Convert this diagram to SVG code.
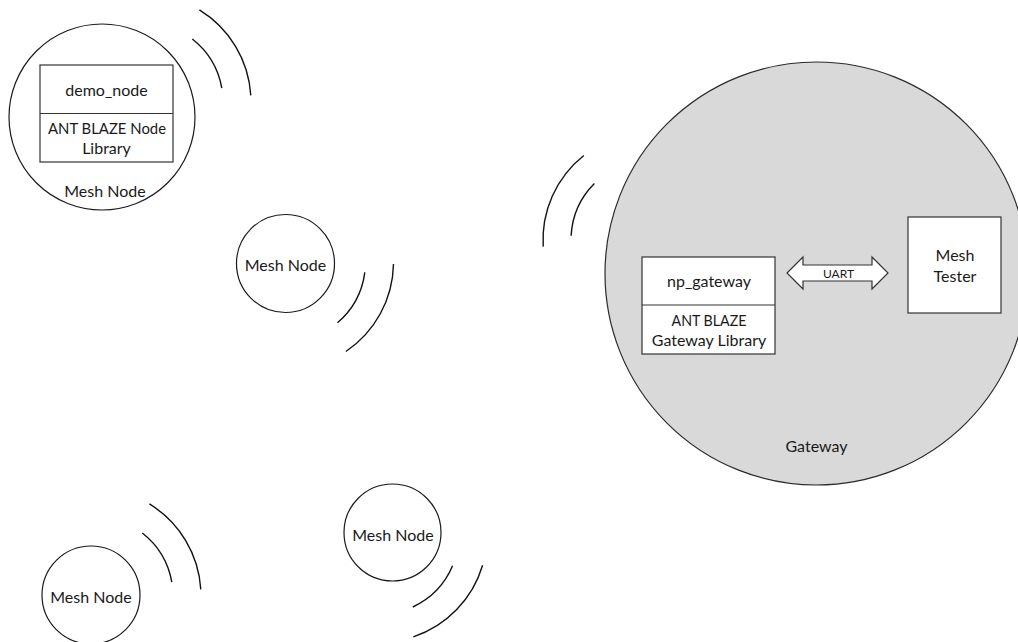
<svg xmlns="http://www.w3.org/2000/svg" width="1018" height="642" viewBox="0 0 1018 642">
<style>
.t{font-family:Lato,"Liberation Sans",sans-serif;font-size:16px;fill:#1a1a1a;text-anchor:middle}
.s{font-size:12px}
.bx{fill:#fff;stroke:#333;stroke-width:1.2}
.div{stroke:#333;stroke-width:1.2}
.node{fill:#fff;stroke:#1a1a1a;stroke-width:1.2}
.gw{fill:#d9d9d9;stroke:#2a2a2a;stroke-width:1.2}
.wave{fill:none;stroke:#111;stroke-width:1.4}
</style>
<rect width="1018" height="642" fill="#fff"/>
<g id="node-demo">
  <circle class="node" cx="102" cy="117" r="93"/>
  <rect class="bx" x="40" y="65" width="133" height="97"/>
  <line class="div" x1="40" y1="113.5" x2="173" y2="113.5"/>
  <text class="t" x="106.5" y="96">demo_node</text>
  <text class="t" x="107" y="134" textLength="118" lengthAdjust="spacingAndGlyphs">ANT BLAZE Node</text>
  <text class="t" x="106.5" y="154">Library</text>
  <text class="t" x="105" y="196.5">Mesh Node</text>
</g>
<g id="node-mesh-1">
  <circle class="node" cx="285.5" cy="263.5" r="49"/>
  <text class="t" x="285.5" y="270.5">Mesh Node</text>
</g>
<g id="node-mesh-2">
  <circle class="node" cx="91" cy="595" r="49"/>
  <text class="t" x="91" y="602.5">Mesh Node</text>
</g>
<g id="node-mesh-3">
  <circle class="node" cx="392.5" cy="532.5" r="48.5"/>
  <text class="t" x="393" y="540.5">Mesh Node</text>
</g>
<g id="gateway">
  <circle class="gw" cx="816.5" cy="273.5" r="211.5"/>
  <text class="t" x="816.5" y="452">Gateway</text>
</g>
<g id="np-gateway">
  <rect class="bx" x="642" y="257" width="133" height="97"/>
  <line class="div" x1="642" y1="305" x2="775" y2="305"/>
  <text class="t" x="709" y="287">np_gateway</text>
  <text class="t" x="709" y="325.5" textLength="75" lengthAdjust="spacingAndGlyphs">ANT BLAZE</text>
  <text class="t" x="709" y="346">Gateway Library</text>
</g>
<g id="mesh-tester">
  <rect class="bx" x="908" y="217" width="93" height="96"/>
  <text class="t" x="955" y="260.5">Mesh</text>
  <text class="t" x="955" y="281.5">Tester</text>
</g>
<g id="connectors">
  <polygon class="bx" points="787,273 803,257 803,265 872,265 872,257 888,273 872,289 872,281 803,281 803,289"/>
  <text class="t s" x="838.5" y="278">UART</text>
  <path class="wave" d="M192.3,39 A80,80 0 0 1 221.8,88.1"/>
  <path class="wave" d="M199.4,9.9 A108,108 0 0 1 250.8,95.4"/>
  <path class="wave" d="M364.8,272.4 A80,80 0 0 1 337.5,322.8"/>
  <path class="wave" d="M393.5,263.9 A108,108 0 0 1 345.9,351.5"/>
  <path class="wave" d="M142.3,533 A80,80 0 0 1 171.8,582.1"/>
  <path class="wave" d="M149.4,503.9 A108,108 0 0 1 200.8,589.4"/>
  <path class="wave" d="M452.6,565.8 A80,80 0 0 1 412.8,607"/>
  <path class="wave" d="M482.6,565.2 A108,108 0 0 1 413.3,636.9"/>
  <path class="wave" d="M571.1,235.8 A80,80 0 0 1 594.4,183.4"/>
  <path class="wave" d="M543.2,246.6 A108,108 0 0 1 583.8,155.5"/>
</g>
</svg>
